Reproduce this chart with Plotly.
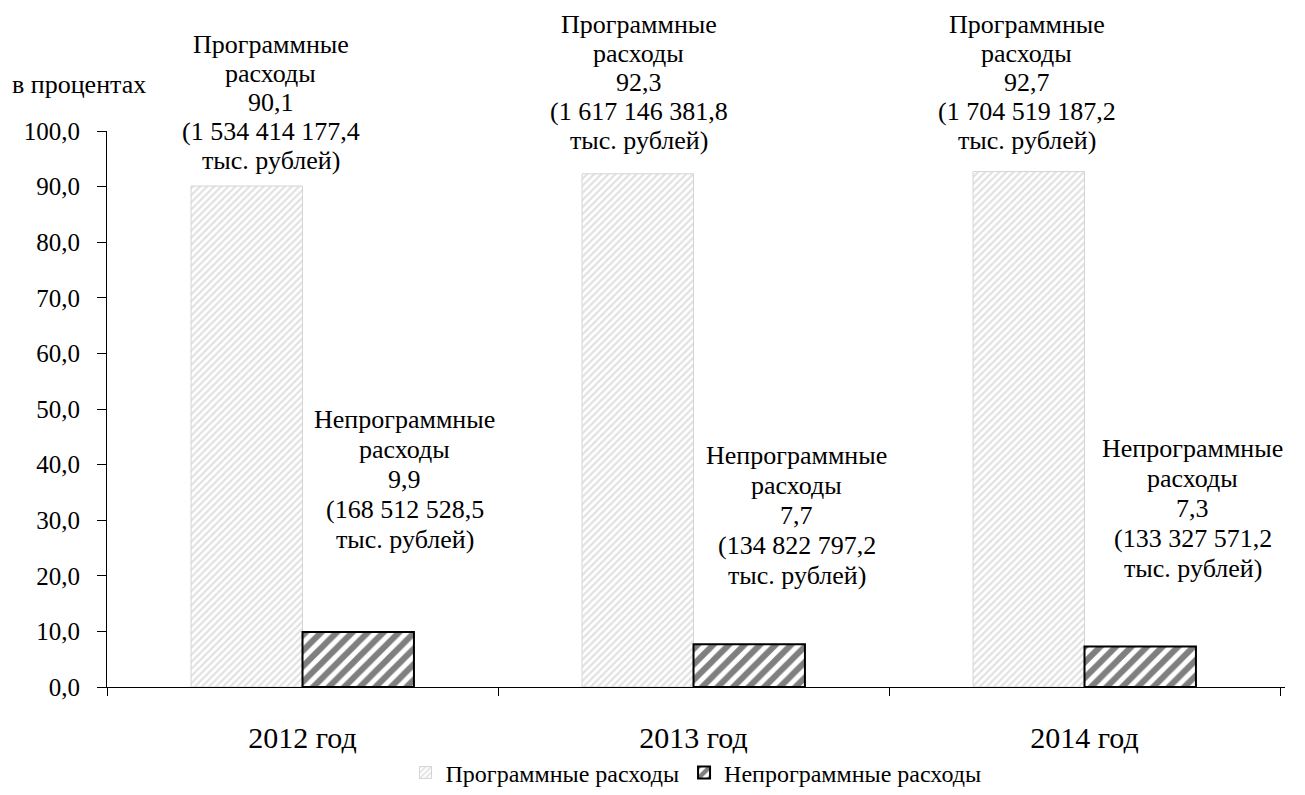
import plotly.graph_objects as go

years = ["2012 год", "2013 год", "2014 год"]
prog_pct = [90.1, 92.3, 92.7]
nonprog_pct = [9.9, 7.7, 7.3]
prog_amount = ["1 534 414 177,4", "1 617 146 381,8", "1 704 519 187,2"]
nonprog_amount = ["168 512 528,5", "134 822 797,2", "133 327 571,2"]
series_names = ["Программные расходы", "Непрограммные расходы"]
label_heads = [["Программные", "расходы"], ["Непрограммные", "расходы"]]
unit_text = "тыс. рублей)"
y_tick_vals = [0, 10, 20, 30, 40, 50, 60, 70, 80, 90, 100]
y_title = "в процентах"

FONT = "Liberation Serif"
ANN_SIZE = 26

fig = go.Figure()
fig.add_trace(go.Bar(
    x=years, y=prog_pct, name=series_names[0],
    marker=dict(color="white",
                line=dict(color="#d4d4d4", width=1),
                pattern=dict(shape="/", fgcolor="#c4c4c4", bgcolor="white",
                             size=5, solidity=0.45)),
))
fig.add_trace(go.Bar(
    x=years, y=nonprog_pct, name=series_names[1],
    marker=dict(color="white",
                line=dict(color="black", width=2),
                pattern=dict(shape="/", fgcolor="black", bgcolor="white",
                             size=11, solidity=0.55)),
))

def fmt(v):
    return f"{v:.1f}".replace(".", ",")

# label placement (pixels relative to the category centre / bar top)
prog_xshift = [-32, -55, -58]
prog_top = [142, 149, 147]
prog_line_h = 29
nonprog_xshift = [102, 103, 108]
nonprog_top = [212, 189, 198]
nonprog_line_h = 30

annotations = []
for i, yr in enumerate(years):
    p_lines = label_heads[0] + [fmt(prog_pct[i]), "(" + prog_amount[i], unit_text]
    for k, line in enumerate(p_lines):
        annotations.append(dict(
            x=yr, y=prog_pct[i], xref="x", yref="y", xanchor="center", yanchor="middle",
            xshift=prog_xshift[i], yshift=prog_top[i] - k * prog_line_h, showarrow=False,
            text=line, font=dict(family=FONT, size=ANN_SIZE, color="black"),
        ))
    n_lines = label_heads[1] + [fmt(nonprog_pct[i]), "(" + nonprog_amount[i], unit_text]
    for k, line in enumerate(n_lines):
        annotations.append(dict(
            x=yr, y=nonprog_pct[i], xref="x", yref="y", xanchor="center", yanchor="middle",
            xshift=nonprog_xshift[i], yshift=nonprog_top[i] - k * nonprog_line_h, showarrow=False,
            text=line, font=dict(family=FONT, size=ANN_SIZE, color="black"),
        ))
annotations.append(dict(
    x=-0.082, y=1.083, xref="paper", yref="paper", xanchor="left", yanchor="middle",
    showarrow=False, text=y_title,
    font=dict(family=FONT, size=26, color="black"),
))

# page body has an 8px margin; compensate so the plot area lands where it should
fig.update_layout(
    width=1297, height=787,
    margin=dict(l=99, r=20, t=123, b=108, autoexpand=False),
    paper_bgcolor="white", plot_bgcolor="white",
    barmode="group", bargap=0.43, bargroupgap=0,
    separators=", ",
    font=dict(family=FONT, size=24, color="black"),
    showlegend=True,
    legend=dict(orientation="h", x=0.5, xref="paper", y=0.028, yref="container",
                xanchor="center", yanchor="middle", bgcolor="rgba(0,0,0,0)",
                font=dict(family=FONT, size=24, color="black"),
                itemwidth=30, traceorder="normal"),
    annotations=annotations,
)
fig.update_xaxes(
    type="category", showline=True, linecolor="black", linewidth=1,
    ticks="outside", tickson="boundaries", ticklen=8, tickcolor="black",
    showgrid=False, ticklabelstandoff=24, automargin=False,
    tickfont=dict(family=FONT, size=30, color="black"),
)
fig.update_yaxes(
    range=[0, 100], tickvals=y_tick_vals, tickformat=".1f",
    showline=True, linecolor="black", linewidth=1,
    ticks="outside", ticklen=9, tickcolor="black", showgrid=False,
    zeroline=False, ticklabelstandoff=12, automargin=False,
    tickfont=dict(family=FONT, size=25, color="black"),
)

fig.write_html("out.html")
